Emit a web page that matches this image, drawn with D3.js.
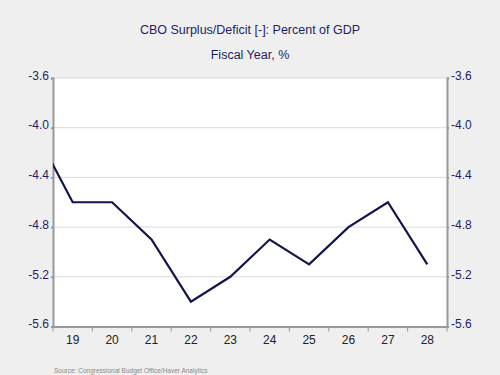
<!DOCTYPE html>
<html>
<head>
<meta charset="utf-8">
<script src="https://cdn.jsdelivr.net/npm/d3@7"></script>
<style>
  body { margin: 0; background: #efefef; }
  text { font-family: Arial, "Liberation Sans", sans-serif; }
</style>
</head>
<body>
<div id="chart"></div>
<script>
// 資料 (fiscal year, % of GDP)
var years = ['18', '19', '20', '21', '22', '23', '24', '25', '26', '27', '28'];
var deficit = [-4.0, -4.6, -4.6, -4.9, -5.4, -5.2, -4.9, -5.1, -4.8, -4.6, -5.1];
var yTicks = [-3.6, -4.0, -4.4, -4.8, -5.2, -5.6];
var xLabels = ['19', '20', '21', '22', '23', '24', '25', '26', '27', '28'];

const width = 500, height = 375;
const margin = {top: 78, right: 53, bottom: 48.5, left: 53};

var svg = d3.select('#chart').append('svg')
  .attr('width', width)
  .attr('height', height);

svg.append('rect').attr('width', width).attr('height', height).attr('fill', '#efefef');

// 比例尺
var x = d3.scaleBand()
  .domain(xLabels)
  .range([margin.left, width - margin.right]);
var xAll = d3.scaleBand()
  .domain(years)
  .range([margin.left - x.bandwidth(), width - margin.right]);
var y = d3.scaleLinear()
  .domain([-5.6, -3.6])
  .range([height - margin.bottom, margin.top]);

// 畫布底色
svg.append('rect')
  .attr('x', margin.left)
  .attr('y', margin.top)
  .attr('width', width - margin.left - margin.right)
  .attr('height', height - margin.top - margin.bottom)
  .attr('fill', '#fff');

// 格線
svg.append('g')
  .selectAll('line')
  .data(yTicks)
  .join('line')
  .attr('x1', margin.left)
  .attr('x2', width - margin.right)
  .attr('y1', d => y(d))
  .attr('y2', d => y(d))
  .attr('stroke', '#d9d9d9')
  .attr('stroke-width', 1);

// 左右Y軸 (用一般的減號)
var fmt = d => d.toFixed(1);
var yLeft = d3.axisLeft(y).tickValues(yTicks).tickSize(2).tickPadding(2).tickFormat(fmt);
var yRight = d3.axisRight(y).tickValues(yTicks).tickSize(2).tickPadding(2).tickFormat(fmt);
svg.append('g').attr('class', 'yaxis')
  .attr('transform', `translate(${margin.left},0)`).call(yLeft);
svg.append('g').attr('class', 'yaxis')
  .attr('transform', `translate(${width - margin.right},0)`).call(yRight);
svg.selectAll('.yaxis text')
  .attr('fill', '#1e1e66').style('font-size', '12px');
svg.selectAll('.yaxis .tick text').attr('dy', '0.1em');
svg.selectAll('.yaxis path, .yaxis line').attr('stroke', '#999').attr('stroke-width', 2);

// X軸
var xAxis = d3.axisBottom(x).tickSize(0).tickPadding(9);
var gx = svg.append('g')
  .attr('class', 'xaxis')
  .attr('transform', `translate(0,${height - margin.bottom})`)
  .call(xAxis);
gx.select('.domain').attr('stroke', '#999').attr('stroke-width', 2);
gx.selectAll('text').attr('fill', '#222').style('font-size', '12px');
// 年份間的刻度
svg.append('g')
  .selectAll('line')
  .data(xLabels.concat(['end']))
  .join('line')
  .attr('x1', (d, i) => margin.left + i * x.bandwidth())
  .attr('x2', (d, i) => margin.left + i * x.bandwidth())
  .attr('y1', height - margin.bottom)
  .attr('y2', height - margin.bottom + 5)
  .attr('stroke', '#999')
  .attr('stroke-width', 1);

// 折線
svg.append('clipPath').attr('id', 'clip')
  .append('rect')
  .attr('x', margin.left)
  .attr('y', margin.top)
  .attr('width', width - margin.left - margin.right)
  .attr('height', height - margin.top - margin.bottom);

var line = d3.line()
  .x((d, i) => xAll(years[i]) + xAll.bandwidth() / 2)
  .y(d => y(d));
svg.append('path')
  .datum(deficit)
  .attr('clip-path', 'url(#clip)')
  .attr('d', line)
  .attr('fill', 'none')
  .attr('stroke', '#14144f')
  .attr('stroke-width', 2.2)
  .attr('stroke-linejoin', 'miter');

// 標題
svg.append('text')
  .attr('x', width / 2).attr('y', 34)
  .attr('text-anchor', 'middle')
  .attr('fill', '#1e1e66')
  .style('font-size', '12.5px')
  .text('CBO Surplus/Deficit [-]: Percent of GDP');
svg.append('text')
  .attr('x', width / 2).attr('y', 59)
  .attr('text-anchor', 'middle')
  .attr('fill', '#1e1e66')
  .style('font-size', '12.5px')
  .text('Fiscal Year, %');

// 來源
svg.append('text')
  .attr('x', 54).attr('y', 373)
  .attr('fill', '#888')
  .style('font-size', '6.5px')
  .text('Source:  Congressional Budget Office/Haver Analytics');
</script>
</body>
</html>
